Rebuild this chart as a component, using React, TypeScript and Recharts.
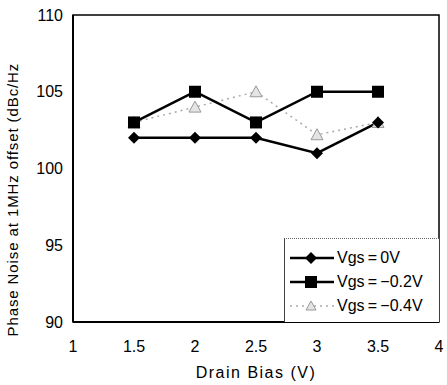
import { LineChart, Line, XAxis, YAxis, ReferenceArea } from "recharts";

const drainBias = [1.5, 2, 2.5, 3, 3.5];
const vgs0 = [102, 102, 102, 101, 103];
const vgs02 = [103, 105, 103, 105, 105];
const vgs04 = [103, 104, 105, 102.2, 103];
const xTicks = [1, 1.5, 2, 2.5, 3, 3.5, 4];
const yTicks = [90, 95, 100, 105, 110];

const data = drainBias.map((x, i) => ({
  x,
  v0: vgs0[i],
  v02: vgs02[i],
  v04: vgs04[i],
}));

const font = "'Liberation Sans', Arial, sans-serif";

const Diamond = (props: any) => {
  const { cx, cy } = props;
  if (cx == null || cy == null) return null;
  return <path d={`M${cx},${cy - 6}L${cx + 6},${cy}L${cx},${cy + 6}L${cx - 6},${cy}Z`} fill="#000" />;
};

const Square = (props: any) => {
  const { cx, cy } = props;
  if (cx == null || cy == null) return null;
  return <rect x={cx - 6} y={cy - 6} width={12} height={12} fill="#000" />;
};

const Triangle = (props: any) => {
  const { cx, cy } = props;
  if (cx == null || cy == null) return null;
  return <path d={`M${cx},${cy - 6}L${cx + 6},${cy + 5}L${cx - 6},${cy + 5}Z`} fill="#e4e4e4" stroke="#999" strokeWidth={1} />;
};

const legendItems = [
  { label: "Vgs\u2009=\u20090V", icon: "d" },
  { label: "Vgs\u2009=\u2009\u22120.2V", icon: "s" },
  { label: "Vgs\u2009=\u2009\u22120.4V", icon: "t" },
];

const LegendBox = () => (
  <div
    style={{
      position: "absolute",
      left: 284,
      top: 238,
      width: 155,
      height: 84,
      borderLeft: "1px solid #444",
      borderTop: "1px dotted #666",
      background: "#fff",
      fontFamily: font,
      fontSize: 16,
      color: "#000",
      boxSizing: "border-box",
      paddingTop: 7,
    }}
  >
    {legendItems.map((it) => (
      <div key={it.label} style={{ display: "flex", alignItems: "center", height: 24 }}>
        <svg width={48} height={16} style={{ marginLeft: 3 }}>
          {it.icon === "t" ? (
            <>
              <line x1={2} y1={8} x2={46} y2={8} stroke="#aaa" strokeWidth={1.5} strokeDasharray="2 4" />
              <path d="M23,3L28,12L18,12Z" fill="#e4e4e4" stroke="#999" />
            </>
          ) : (
            <>
              <line x1={2} y1={8} x2={46} y2={8} stroke="#000" strokeWidth={2.5} />
              {it.icon === "d" ? (
                <path d="M23,2L29,8L23,14L17,8Z" fill="#000" />
              ) : (
                <rect x={17} y={2} width={12} height={12} fill="#000" />
              )}
            </>
          )}
        </svg>
        <span style={{ marginLeft: 1 }}>{it.label}</span>
      </div>
    ))}
  </div>
);

export default function App() {
  return (
    <div style={{ position: "absolute", left: 0, top: 0, width: 447, height: 385, background: "#fff" }}>
      <LineChart width={447} height={385} data={data} margin={{ top: 15, right: 8, bottom: 0, left: 0 }}>
        <XAxis
          dataKey="x"
          type="number"
          domain={[1, 4]}
          ticks={xTicks}
          tickLine={false}
          axisLine={{ stroke: "#000", strokeWidth: 2 }}
          tickMargin={13}
          tick={{ fill: "#000", fontSize: 16, fontFamily: font }}
          label={{
            value: "Drain Bias (V)",
            position: "insideBottom",
            offset: 7,
            fill: "#000",
            fontSize: 16,
            fontFamily: font,
            letterSpacing: 1.5,
          }}
          height={63}
        />
        <YAxis
          type="number"
          domain={[90, 110]}
          ticks={yTicks}
          tickLine={false}
          axisLine={{ stroke: "#000", strokeWidth: 2 }}
          tickMargin={4}
          width={73}
          tick={{ fill: "#000", fontSize: 16, fontFamily: font }}
          label={{
            value: "Phase Noise at 1MHz offset (dBc/Hz",
            angle: -90,
            position: "insideLeft",
            dx: 8,
            dy: 168,
            style: { textAnchor: "start", letterSpacing: 0.9 },
            fill: "#000",
            fontSize: 15,
            fontFamily: font,
          }}
        />
        <ReferenceArea x1={1} x2={4} y1={90} y2={110} fill="none" stroke="#000" strokeWidth={1.5} />
        <Line dataKey="v04" stroke="#aaa" strokeWidth={1.5} strokeDasharray="2 4" dot={<Triangle />} isAnimationActive={false} />
        <Line dataKey="v0" stroke="#000" strokeWidth={2.5} dot={<Diamond />} isAnimationActive={false} />
        <Line dataKey="v02" stroke="#000" strokeWidth={2.5} dot={<Square />} isAnimationActive={false} />
      </LineChart>
      <LegendBox />
    </div>
  );
}
